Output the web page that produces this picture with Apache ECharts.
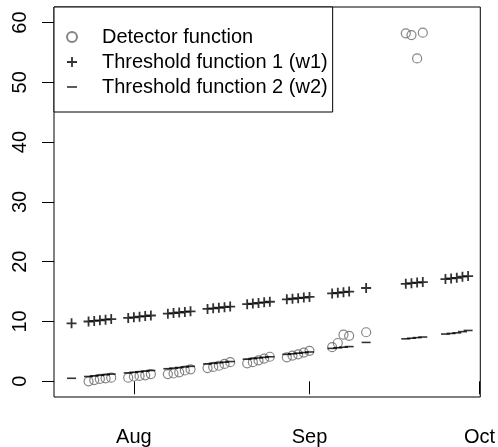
<!DOCTYPE html>
<html>
<head>
<meta charset="utf-8">
<script src="https://cdn.jsdelivr.net/npm/echarts@6/dist/echarts.min.js"></script>
<style>
html,body{margin:0;padding:0;background:#fff;}
#chart{width:498px;height:447px;}
</style>
</head>
<body>
<div id="chart"></div>
<script>
// ---- data ----
const dates = [
  '2006-07-21',
  '2006-07-24','2006-07-25','2006-07-26','2006-07-27','2006-07-28',
  '2006-07-31','2006-08-01','2006-08-02','2006-08-03','2006-08-04',
  '2006-08-07','2006-08-08','2006-08-09','2006-08-10','2006-08-11',
  '2006-08-14','2006-08-15','2006-08-16','2006-08-17','2006-08-18',
  '2006-08-21','2006-08-22','2006-08-23','2006-08-24','2006-08-25',
  '2006-08-28','2006-08-29','2006-08-30','2006-08-31','2006-09-01',
  '2006-09-05','2006-09-06','2006-09-07','2006-09-08',
  '2006-09-11',
  '2006-09-18','2006-09-19','2006-09-20','2006-09-21',
  '2006-09-25','2006-09-26','2006-09-27','2006-09-28','2006-09-29'
];
const detector = [
  null,
  0.0, 0.2, 0.4, 0.5, 0.6,
  0.6, 0.8, 0.9, 1.0, 1.2,
  1.2, 1.3, 1.5, 1.8, 2.0,
  2.2, 2.4, 2.6, 2.9, 3.2,
  3.0, 3.2, 3.5, 3.8, 4.1,
  4.0, 4.3, 4.5, 4.8, 5.1,
  5.7, 6.4, 7.8, 7.6,
  8.2,
  58.2, 57.9, 54.0, 58.3,
  null, null, null, null, null
];
const threshold1 = [
  9.7,
  10.0, 10.1, 10.2, 10.3, 10.4,
  10.6, 10.7, 10.8, 10.9, 11.0,
  11.3, 11.4, 11.5, 11.6, 11.7,
  12.1, 12.2, 12.3, 12.4, 12.5,
  12.9, 13.0, 13.1, 13.2, 13.3,
  13.7, 13.8, 13.9, 14.0, 14.1,
  14.7, 14.8, 14.9, 15.0,
  15.6,
  16.3, 16.4, 16.5, 16.6,
  17.1, 17.2, 17.3, 17.5, 17.6
];
const threshold2 = [
  0.5,
  0.8, 0.9, 1.0, 1.1, 1.2,
  1.4, 1.5, 1.6, 1.7, 1.8,
  2.1, 2.2, 2.3, 2.4, 2.5,
  2.9, 3.0, 3.1, 3.2, 3.3,
  3.7, 3.8, 3.9, 4.0, 4.1,
  4.5, 4.6, 4.7, 4.8, 4.9,
  5.5, 5.6, 5.7, 5.8,
  6.5,
  7.1, 7.2, 7.3, 7.4,
  7.9, 8.0, 8.1, 8.3, 8.5
];
const seriesNames = ['Detector function', 'Threshold function 1 (w1)', 'Threshold function 2 (w2)'];
const xTickDates = ['2006-08-01', '2006-09-01', '2006-10-01'];
const xTickLabels = ['Aug', 'Sep', 'Oct'];
const yTicks = [0, 10, 20, 30, 40, 50, 60];

// ---- build ----
const DAY = 86400000;
const ts = s => Date.parse(s + 'T00:00:00Z');
const xs = dates.map(ts);
const xTickVals = xTickDates.map(ts);
const pairs = arr => xs.map((x, i) => [x, arr[i]]).filter(p => p[1] !== null);

const FONT = '"Liberation Sans", Arial, sans-serif';
const plusPath = 'path://M4.1,0h1.8v4.1h4.1v1.8h-4.1v4.1h-1.8v-4.1h-4.1v-1.8h4.1z';
const dashPath = 'path://M0,0h10v1.6h-10z';

const chart = echarts.init(document.getElementById('chart'), null, {renderer: 'canvas'});
chart.setOption({
  animation: false,
  backgroundColor: '#fff',
  textStyle: {fontFamily: FONT, color: '#000'},
  grid: {left: 54, right: 17, top: 7, bottom: 50, show: true, borderColor: '#000', borderWidth: 1, backgroundColor: 'transparent'},
  xAxis: {
    type: 'value',
    min: xTickVals[0] - 14.1 * DAY,
    max: xTickVals[2] + 0.15 * DAY,
    splitLine: {show: false},
    axisLine: {show: false},
    axisTick: {show: true, customValues: xTickVals, length: 13, lineStyle: {color: '#000', width: 1}},
    axisLabel: {
      customValues: xTickVals, margin: 30, fontSize: 20, color: '#000', fontFamily: FONT,
      formatter: v => xTickLabels[xTickVals.indexOf(v)] || ''
    }
  },
  yAxis: {
    type: 'value',
    min: -2.63, max: 62.6,
    splitLine: {show: false},
    axisLine: {show: false},
    axisTick: {show: true, customValues: yTicks, length: 12, lineStyle: {color: '#000', width: 1}},
    axisLabel: {customValues: yTicks, rotate: 90, margin: 24, fontSize: 20, color: '#000', fontFamily: FONT}
  },
  legend: {
    orient: 'vertical', left: 54, top: 7,
    padding: [20, 5, 15, 12],
    itemWidth: 10, itemHeight: 14, itemGap: 5,
    backgroundColor: '#fff', borderColor: '#000', borderWidth: 1,
    selectedMode: false,
    textStyle: {fontSize: 20, lineHeight: 20, color: '#000', fontFamily: FONT, padding: [0, 0, 0, 20]},
    data: seriesNames
  },
  series: [
    {
      name: seriesNames[0], type: 'scatter', data: pairs(detector),
      symbol: 'circle', symbolSize: 9,
      itemStyle: {color: 'rgba(255,255,255,0)', borderColor: '#666', borderWidth: 1.2}
    },
    {
      name: seriesNames[1], type: 'scatter', data: pairs(threshold1),
      symbol: plusPath, symbolSize: 10,
      itemStyle: {color: '#000'}
    },
    {
      name: seriesNames[2], type: 'scatter', data: pairs(threshold2),
      symbol: dashPath, symbolSize: [9, 1.6],
      itemStyle: {color: '#000'}
    }
  ]
});
</script>
</body>
</html>
